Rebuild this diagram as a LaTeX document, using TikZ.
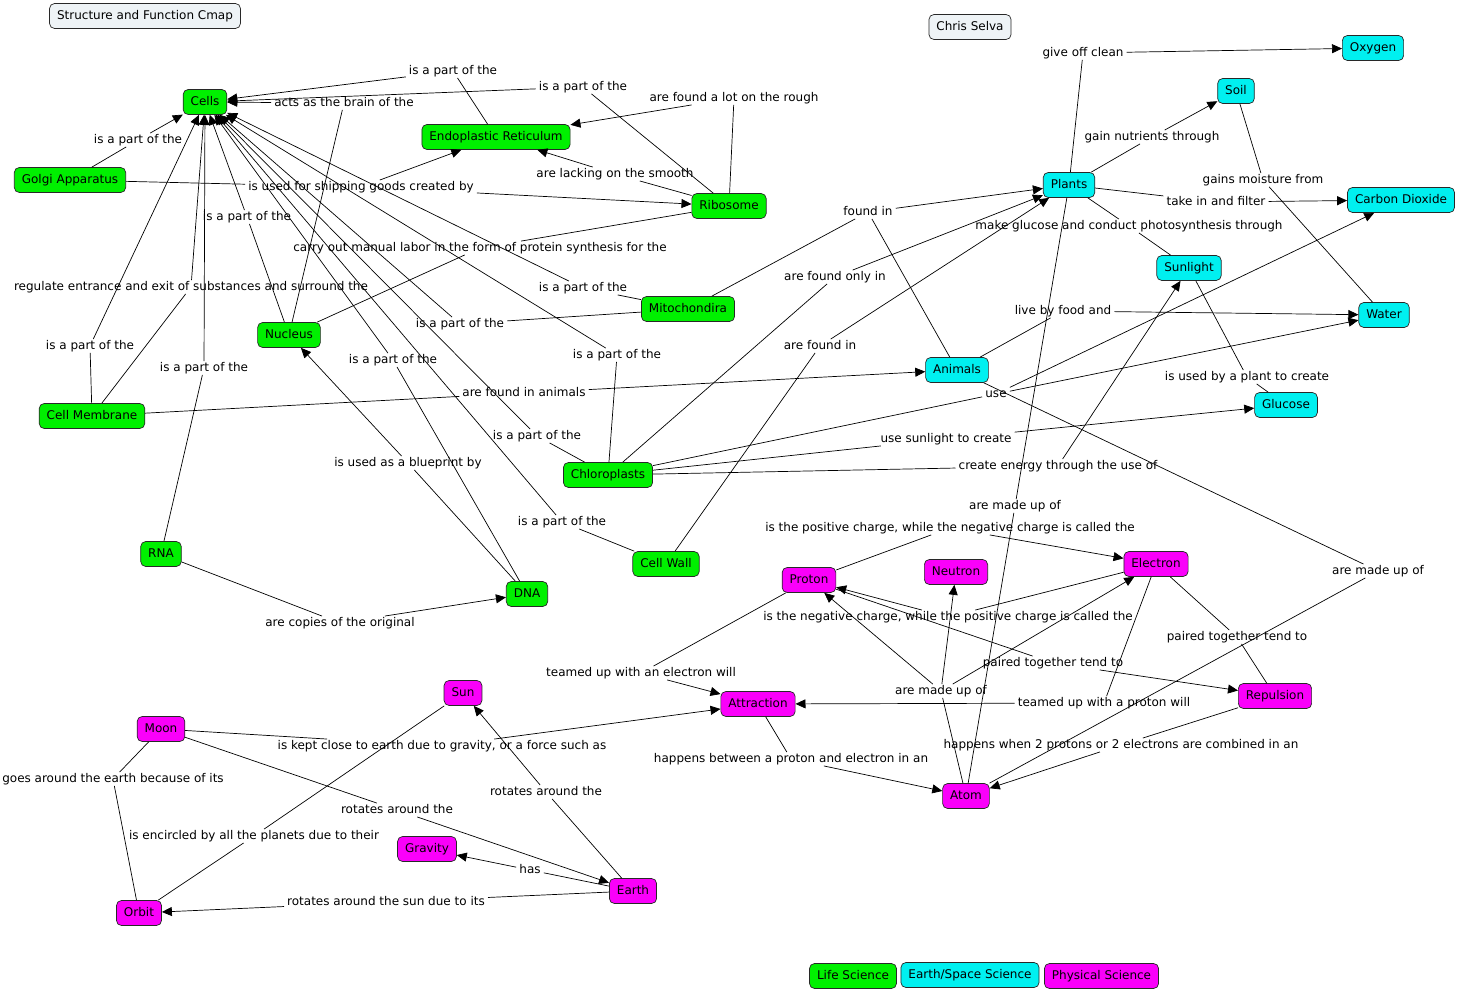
\documentclass[tikz,border=0pt]{standalone}
\usepackage{fontspec}
\setmainfont{DejaVu Sans}
\usetikzlibrary{arrows.meta}
\definecolor{lifeg}{RGB}{0,240,0}
\definecolor{earthc}{RGB}{0,240,240}
\definecolor{physm}{RGB}{250,0,250}
\definecolor{titlef}{RGB}{238,243,246}
\definecolor{bord}{RGB}{40,40,40}
\tikzset{
 concept/.style={draw=bord, line width=0.7pt, rounded corners=5pt, minimum height=25pt, inner xsep=7.5pt, inner ysep=2pt, text height=9pt, text depth=2.5pt, font=\fontsize{12}{14}\selectfont},
 lifesty/.style={concept, fill=lifeg},
 earthsty/.style={concept, fill=earthc},
 physsty/.style={concept, fill=physm},
 titlesty/.style={concept, fill=titlef},
 lab/.style={inner xsep=3pt, inner ysep=1pt, text height=9pt, text depth=2.5pt, font=\fontsize{12}{14}\selectfont},
 con/.style={line width=0.7pt, draw=black},
 arr/.style={con, -{Triangle[length=10pt,width=9pt]}},
}
\begin{document}
\begin{tikzpicture}[x=1pt,y=-1pt]
\useasboundingbox[fill=white] (0,0) rectangle (1457,992);
\begin{scope}[yshift=-1pt]
% ---- concepts ----
\node[titlesty] (title) at (145,15) {Structure and Function Cmap};
\node[titlesty] (chris) at (970,26) {Chris Selva};
\node[lifesty] (cells) at (205,101) {Cells};
\node[lifesty] (er) at (496,136) {Endoplastic Reticulum};
\node[lifesty] (golgi) at (70,179) {Golgi Apparatus};
\node[lifesty] (ribo) at (729,205) {Ribosome};
\node[lifesty] (mito) at (688,308) {Mitochondira};
\node[lifesty] (nucleus) at (289,334) {Nucleus};
\node[lifesty] (cellmem) at (92,415) {Cell Membrane};
\node[lifesty] (chloro) at (608,474) {Chloroplasts};
\node[lifesty] (rna) at (161,553) {RNA};
\node[lifesty] (dna) at (527,593) {DNA};
\node[lifesty] (cellwall) at (666,563) {Cell Wall};
\node[earthsty] (oxygen) at (1373,47) {Oxygen};
\node[earthsty] (soil) at (1236,90) {Soil};
\node[earthsty] (plants) at (1069,184) {Plants};
\node[earthsty] (co2) at (1401,199) {Carbon Dioxide};
\node[earthsty] (sunlight) at (1189,267) {Sunlight};
\node[earthsty] (water) at (1384,314) {Water};
\node[earthsty] (animals) at (957,369) {Animals};
\node[earthsty] (glucose) at (1286,404) {Glucose};
\node[physsty] (proton) at (809,579) {Proton};
\node[physsty] (neutron) at (956,571) {Neutron};
\node[physsty] (electron) at (1156,563) {Electron};
\node[physsty] (attraction) at (758,703) {Attraction};
\node[physsty] (repulsion) at (1275,695) {Repulsion};
\node[physsty] (atom) at (966,795) {Atom};
\node[physsty] (sun) at (463,692) {Sun};
\node[physsty] (moon) at (161,728) {Moon};
\node[physsty] (gravity) at (427,848) {Gravity};
\node[physsty] (earthn) at (633,890) {Earth};
\node[physsty] (orbit) at (139,912) {Orbit};
\node[lifesty] (leglife) at (853,975) {Life Science};
\node[earthsty] (legearth) at (970,974) {Earth/Space Science};
\node[physsty] (legphys) at (1101.5,975) {Physical Science};
% ---- linking phrases ----
\node[lab] (l1) at (453,70) {is a part of the};
\node[lab] (l2) at (583,86) {is a part of the};
\node[lab] (l3) at (734,97) {are found a lot on the rough};
\node[lab] (l4) at (615,173) {are lacking on the smooth};
\node[lab] (l5) at (344,102) {acts as the brain of the};
\node[lab] (l6) at (138,139) {is a part of the};
\node[lab] (l7) at (361,186) {is used for shipping goods created by};
\node[lab] (l8) at (247,216) {is a part of the};
\node[lab] (l9) at (480,247) {carry out manual labor in the form of protein synthesis for the};
\node[lab] (l10) at (191,286) {regulate entrance and exit of substances and surround the};
\node[lab] (l11) at (583,287) {is a part of the};
\node[lab] (l12) at (460,323) {is a part of the};
\node[lab] (l13) at (90,345) {is a part of the};
\node[lab] (l14) at (393,359) {is a part of the};
\node[lab] (l15) at (617,354) {is a part of the};
\node[lab] (l16) at (204,367) {is a part of the};
\node[lab] (l17) at (524,392) {are found in animals};
\node[lab] (l18) at (537,435) {is a part of the};
\node[lab] (l19) at (408,462) {is used as a blueprint by};
\node[lab] (l20) at (562,521) {is a part of the};
\node[lab] (l21) at (340,622) {are copies of the original};
\node[lab] (l22) at (1083,52) {give off clean};
\node[lab] (l23) at (1152,136) {gain nutrients through};
\node[lab] (l24) at (1263,179) {gains moisture from};
\node[lab] (l25) at (1216,201) {take in and filter};
\node[lab] (l26) at (1129,225) {make glucose and conduct photosynthesis through};
\node[lab] (l27) at (868,211) {found in};
\node[lab] (l28) at (835,276) {are found only in};
\node[lab] (l29) at (820,345) {are found in};
\node[lab] (l30) at (1063,310) {live by food and};
\node[lab] (l31) at (996,393) {use};
\node[lab] (l32) at (946,438) {use sunlight to create};
\node[lab] (l33) at (1058,465) {create energy through the use of};
\node[lab] (l34) at (1247,376) {is used by a plant to create};
\node[lab] (l35) at (1015,505) {are made up of};
\node[lab] (l36) at (1378,570) {are made up of};
\node[lab] (l37) at (950,527) {is the positive charge, while the negative charge is called the};
\node[lab] (l38) at (948,616) {is the negative charge, while the positive charge is called the};
\node[lab] (l39) at (1053,662) {paired together tend to};
\node[lab] (l40) at (1237,636) {paired together tend to};
\node[lab] (l41) at (641,672) {teamed up with an electron will};
\node[lab] (l42) at (1104,702) {teamed up with a proton will};
\node[lab] (l43) at (941,690) {are made up of};
\node[lab] (l44) at (791,758) {happens between a proton and electron in an};
\node[lab] (l45) at (1121,744) {happens when 2 protons or 2 electrons are combined in an};
\node[lab] (l46) at (442,745) {is kept close to earth due to gravity, or a force such as};
\node[lab] (l47) at (113,778) {goes around the earth because of its};
\node[lab] (l48) at (397,809) {rotates around the};
\node[lab] (l49) at (546,791) {rotates around the};
\node[lab] (l50) at (254,835) {is encircled by all the planets due to their};
\node[lab] (l51) at (530,869) {has};
\node[lab] (l52) at (386,901) {rotates around the sun due to its};
% ---- connectors ----
\draw[con] (er) -- (l1); \draw[arr] (l1) -- (cells);
\draw[con] (ribo) -- (l2); \draw[arr] (l2) -- (cells);
\draw[con] (ribo) -- (l3); \draw[arr] (l3) -- (er);
\draw[con] (ribo) -- (l4); \draw[arr] (l4) -- (er);
\draw[con] (nucleus) -- (l5); \draw[arr] (l5) -- (cells);
\draw[con] (golgi) -- (l6); \draw[arr] (l6) -- (cells);
\draw[con] (golgi) -- (l7); \draw[arr] (l7) -- (er); \draw[arr] (l7) -- (ribo);
\draw[con] (nucleus) -- (l8); \draw[arr] (l8) -- (cells);
\draw[con] (nucleus) -- (l9); \draw[con] (l9) -- (ribo);
\draw[con] (cellmem) -- (l10); \draw[arr] (l10) -- (cells);
\draw[con] (mito) -- (l11); \draw[arr] (l11) -- (cells);
\draw[con] (mito) -- (l12); \draw[arr] (l12) -- (cells);
\draw[con] (cellmem) -- (l13); \draw[arr] (l13) -- (cells);
\draw[con] (dna) -- (l14); \draw[arr] (l14) -- (cells);
\draw[con] (chloro) -- (l15); \draw[arr] (l15) -- (cells);
\draw[con] (rna) -- (l16); \draw[arr] (l16) -- (cells);
\draw[con] (cellmem) -- (l17); \draw[arr] (l17) -- (animals);
\draw[con] (chloro) -- (l18); \draw[arr] (l18) -- (cells);
\draw[con] (dna) -- (l19); \draw[arr] (l19) -- (nucleus);
\draw[con] (cellwall) -- (l20); \draw[arr] (l20) -- (cells);
\draw[con] (rna) -- (l21); \draw[arr] (l21) -- (dna);
\draw[con] (plants) -- (l22); \draw[arr] (l22) -- (oxygen);
\draw[con] (plants) -- (l23); \draw[arr] (l23) -- (soil);
\draw[con] (water) -- (l24); \draw[con] (l24) -- (soil);
\draw[con] (plants) -- (l25); \draw[arr] (l25) -- (co2);
\draw[con] (plants) -- (l26); \draw[con] (l26) -- (sunlight);
\draw[con] (mito) -- (l27); \draw[arr] (l27) -- (plants); \draw[con] (l27) -- (animals);
\draw[con] (chloro) -- (l28); \draw[arr] (l28) -- (plants);
\draw[con] (cellwall) -- (l29); \draw[arr] (l29) -- (plants);
\draw[con] (animals) -- (l30); \draw[arr] (l30) -- (water);
\draw[con] (chloro) -- (l31); \draw[arr] (l31) -- (co2); \draw[arr] (l31) -- (water);
\draw[con] (chloro) -- (l32); \draw[arr] (l32) -- (glucose);
\draw[con] (chloro) -- (l33); \draw[arr] (l33) -- (sunlight);
\draw[con] (sunlight) -- (l34); \draw[con] (l34) -- (glucose);
\draw[con] (plants) -- (l35); \draw[con] (l35) -- (atom);
\draw[con] (animals) -- (l36); \draw[con] (l36) -- (atom);
\draw[con] (proton) -- (l37); \draw[arr] (l37) -- (electron);
\draw[con] (electron) -- (l38); \draw[arr] (l38) -- (proton);
\draw[con] (proton) -- (l39); \draw[arr] (l39) -- (repulsion);
\draw[con] (electron) -- (l40); \draw[con] (l40) -- (repulsion);
\draw[con] (proton) -- (l41); \draw[arr] (l41) -- (attraction);
\draw[con] (electron) -- (l42); \draw[arr] (l42) -- (attraction);
\draw[con] (atom) -- (l43); \draw[arr] (l43) -- (proton); \draw[arr] (l43) -- (neutron); \draw[arr] (l43) -- (electron);
\draw[con] (attraction) -- (l44); \draw[arr] (l44) -- (atom);
\draw[con] (repulsion) -- (l45); \draw[arr] (l45) -- (atom);
\draw[con] (moon) -- (l46); \draw[arr] (l46) -- (attraction);
\draw[con] (moon) -- (l47); \draw[con] (l47) -- (orbit);
\draw[con] (moon) -- (l48); \draw[arr] (l48) -- (earthn);
\draw[con] (earthn) -- (l49); \draw[arr] (l49) -- (sun);
\draw[con] (sun) -- (l50); \draw[con] (l50) -- (orbit);
\draw[con] (earthn) -- (l51); \draw[arr] (l51) -- (gravity);
\draw[con] (earthn) -- (l52); \draw[arr] (l52) -- (orbit);
\end{scope}
\end{tikzpicture}
\end{document}
